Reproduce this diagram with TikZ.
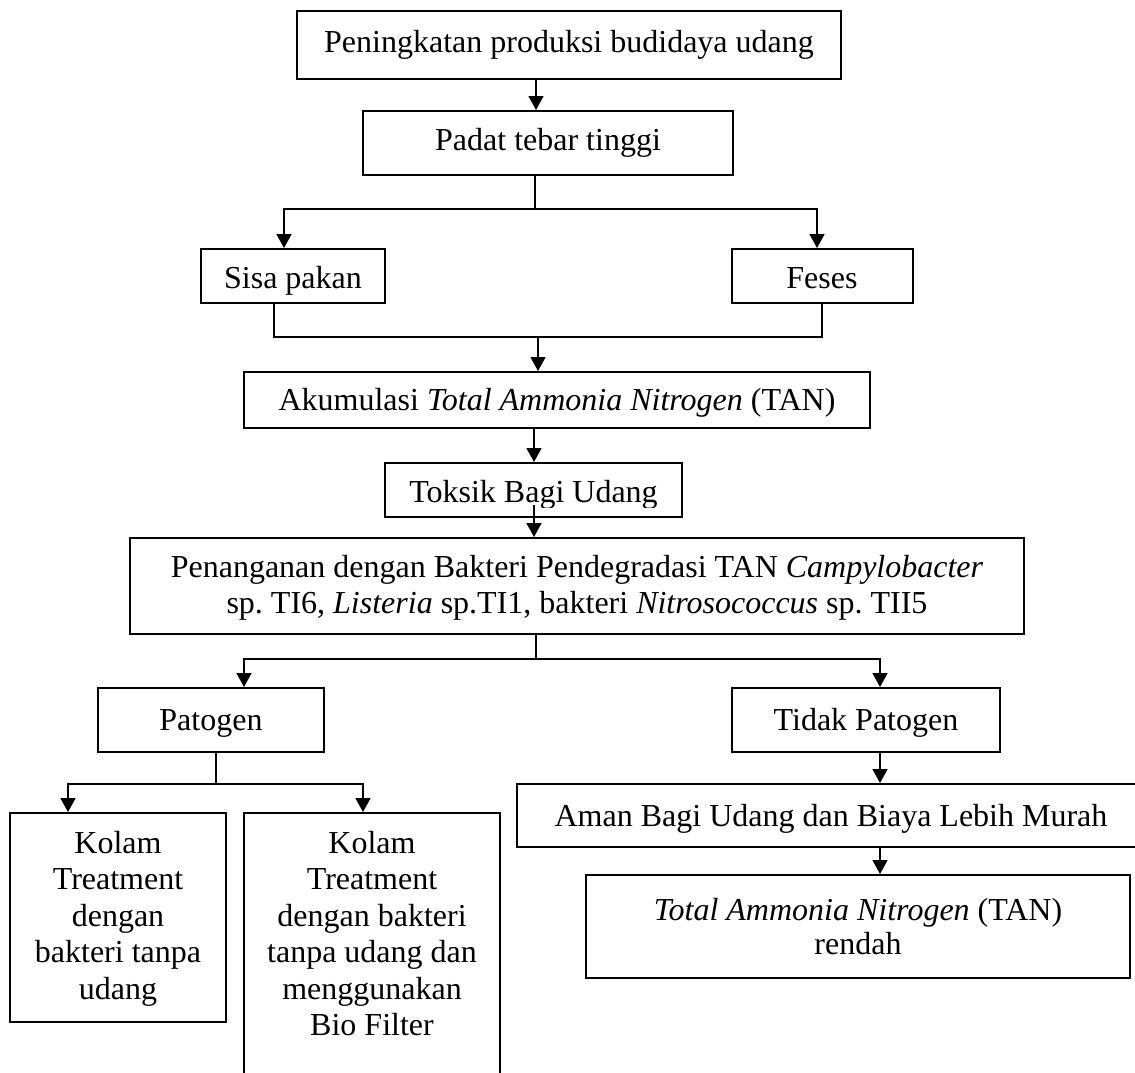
\documentclass[tikz,border=0pt]{standalone}
\usepackage{fontspec}
\setmainfont{Liberation Serif}
\usetikzlibrary{arrows.meta,calc}
\frenchspacing
\newcommand\mkbox[5]{\node[box, minimum width={(#4)-(#2)}, minimum height={(#5)-(#3)}] (#1) at ({((#2)+(#4))/2},{((#3)+(#5))/2}) {};}
\begin{document}
\frenchspacing
\begin{tikzpicture}[x=1pt,y=-1pt,
  box/.style={draw, line width=2pt, inner sep=0pt, rectangle},
  txt/.style={inner sep=0pt, anchor=base, font=\fontsize{32}{36.5}\selectfont},
  ln/.style={line width=1.7pt},
  arr/.style={line width=1.7pt, -{Triangle[width=15pt,length=14pt]}}]
\useasboundingbox (0,0) rectangle (1135,1072);
\fill[white] (0,0) rectangle (1135,1072);
\clip (0,0) rectangle (1135,1072);

% boxes
\mkbox{b1}{297}{11}{841}{79}
\mkbox{b2}{363}{111}{733}{175}
\mkbox{sisa}{201}{249}{385}{303}
\mkbox{feses}{732}{249}{913}{303}
\mkbox{akum}{244}{372}{870}{428}
\mkbox{toks}{385}{463}{682}{517}
\mkbox{pen}{130}{538}{1024}{634}
\mkbox{pat}{98}{688}{324}{752}
\mkbox{tid}{732}{688}{1000}{752}
\mkbox{kol1}{10}{813}{226}{1022}
\mkbox{kol2}{244}{813}{500}{1095}
\mkbox{aman}{517}{784}{1150}{847}
\mkbox{tanr}{586}{875}{1130}{978}

% texts
\node[txt] (t1) at (569,52) {Peningkatan produksi budidaya udang};
\node[txt] (t2) at (548,150) {Padat tebar tinggi};
\begin{scope}
  \clip (sisa.north west) rectangle ($(sisa.south east)+(0,-9)$);
  \node[txt] (t3) at (293,288) {Sisa pakan};
\end{scope}
\node[txt] (t4) at (822,288) {Feses};
\node[txt] (t5) at (557,410) {Akumulasi \textit{Total Ammonia Nitrogen} (TAN)};
\begin{scope}
  \clip (toks.north west) rectangle ($(toks.south east)+(0,-11)$);
  \node[txt] (t6) at (533.5,502) {Toksik Bagi Udang};
\end{scope}
\node[txt, font=\fontsize{32}{36}\selectfont] (t7) at (577,577) {\begin{tabular}[t]{@{}c@{}}Penanganan dengan Bakteri Pendegradasi TAN \textit{Campylobacter}\\ sp. TI6, \textit{Listeria} sp.TI1, bakteri \textit{Nitrosococcus} sp. TII5\end{tabular}};
\node[txt] (t8) at (211,730) {Patogen};
\node[txt] (t9) at (866,730) {Tidak Patogen};
\node[txt] (t10) at (118,853) {\begin{tabular}[t]{@{}c@{}}Kolam\\ Treatment\\ dengan\\ bakteri tanpa\\ udang\end{tabular}};
\node[txt] (t11) at (372,853) {\begin{tabular}[t]{@{}c@{}}Kolam\\ Treatment\\ dengan bakteri\\ tanpa udang dan\\ menggunakan\\ Bio Filter\end{tabular}};
\node[txt] (t12) at (831,826) {Aman Bagi Udang dan Biaya Lebih Murah};
\node[txt, font=\fontsize{32}{34}\selectfont] (t13) at (858,920) {\begin{tabular}[t]{@{}c@{}}\textit{Total Ammonia Nitrogen} (TAN)\\ rendah\end{tabular}};

% connectors
\coordinate (c1) at (536,0);
\draw[arr] (b1.south -| c1) -- (b2.north -| c1);
\coordinate (j1) at (535,209);
\draw[ln] (b2.south -| j1) -- (j1);
\coordinate (cL) at (284,0);
\coordinate (cR) at (817,0);
\draw[arr] (j1) -| (sisa.north -| cL);
\draw[arr] (j1) -| (feses.north -| cR);
\coordinate (mL) at (274,0);
\coordinate (mR) at (822,0);
\coordinate (j2) at (538,337);
\draw[ln] (sisa.south -| mL) |- (j2) -| (feses.south -| mR);
\draw[arr] (j2) -- (akum.north -| j2);
\coordinate (c3) at (534,0);
\draw[arr] (akum.south -| c3) -- (toks.north -| c3);
\coordinate (c4) at (534,505);
\draw[arr] (c4) -- (pen.north -| c4);
\coordinate (j3) at (536,659);
\draw[ln] (pen.south -| j3) -- (j3);
\coordinate (cP) at (244,0);
\coordinate (cT) at (880,0);
\draw[arr] (j3) -| (pat.north -| cP);
\draw[arr] (j3) -| (tid.north -| cT);
\coordinate (j4) at (216,784);
\draw[ln] (pat.south -| j4) -- (j4);
\coordinate (k1) at (68,0);
\coordinate (k2) at (363,0);
\draw[arr] (j4) -| (kol1.north -| k1);
\draw[arr] (j4) -| (kol2.north -| k2);
\draw[arr] (tid.south -| cT) -- (aman.north -| cT);
\draw[arr] (aman.south -| cT) -- (tanr.north -| cT);
\end{tikzpicture}
\end{document}
